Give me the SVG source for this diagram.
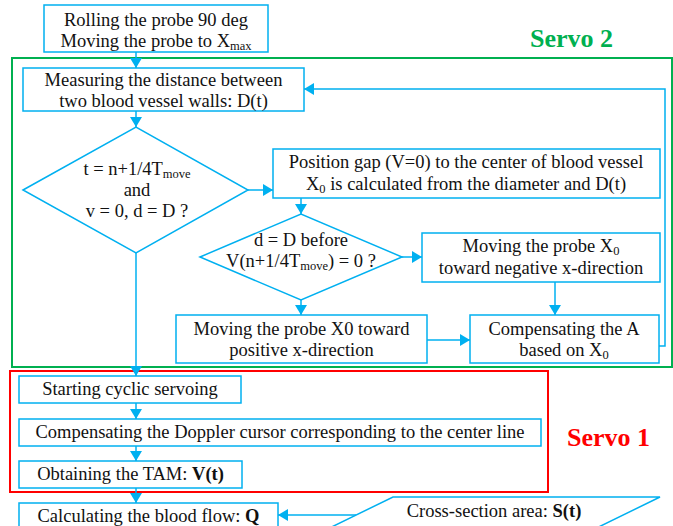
<svg xmlns="http://www.w3.org/2000/svg" width="673" height="526" viewBox="0 0 673 526">
<defs>
<marker id="ah" markerUnits="userSpaceOnUse" markerWidth="14" markerHeight="14" refX="10" refY="6" orient="auto">
<path d="M0,0 L10,6 L0,12 z" fill="#00B0F0"/>
</marker>
<style>
.box{fill:#fff;stroke:#00B0F0;stroke-width:1.5}
.t{font-family:"Liberation Serif","Times New Roman",serif;font-size:18.5px;fill:#111;text-anchor:middle}
.s{font-size:12.5px}
.c{fill:none;stroke:#00B0F0;stroke-width:1.5;marker-end:url(#ah)}
.grp{fill:none;stroke-width:2}
.lbl{font-family:"Liberation Serif","Times New Roman",serif;font-weight:bold;font-size:26px}
</style>
</defs>
<rect width="673" height="526" fill="#fff"/>
<g id="servo2">
<rect class="grp" x="12" y="58" width="660" height="309" stroke="#00B050"/>
<text class="lbl" x="530" y="47" fill="#00B050">Servo 2</text>
</g>
<g id="servo1">
<rect class="grp" x="10" y="371" width="538" height="121" stroke="#FF0000"/>
<text class="lbl" x="567" y="446" fill="#FF0000">Servo 1</text>
</g>
<g id="connectors">
<path class="c" d="M136,52 V68"/>
<path class="c" d="M136,111 V127"/>
<path class="c" d="M248,190 H273"/>
<path class="c" d="M301,198 V214"/>
<path class="c" d="M402,257 H422"/>
<path class="c" d="M555,282 V315"/>
<path class="c" d="M301,300 V315"/>
<path class="c" d="M427,340 H470"/>
<path class="c" d="M657,346 H665 V89 H304"/>
<path class="c" d="M136,253 V376"/>
<path class="c" d="M136,403 V419"/>
<path class="c" d="M136,446 V461"/>
<path class="c" d="M136,488 V503"/>
<path class="c" d="M356,515 H278"/>
</g>
<g id="n_start">
<rect class="box" x="44" y="5" width="224" height="47"/>
<text class="t" x="156" y="26">Rolling the probe 90 deg</text>
<text class="t" x="156" y="47">Moving the probe to X<tspan class="s" dy="3">max</tspan></text>
</g>
<g id="n_measure">
<rect class="box" x="23" y="68" width="281" height="43"/>
<text class="t" x="163.5" y="86">Measuring the distance between</text>
<text class="t" x="163.5" y="107">two blood vessel walls: D(t)</text>
</g>
<g id="n_dec1">
<polygon class="box" points="23,190 136,127 248,190 136,253"/>
<text class="t" x="137" y="175">t = n+1/4T<tspan class="s" dy="3">move</tspan></text>
<text class="t" x="137" y="196">and</text>
<text class="t" x="137" y="217">v = 0, d = D ?</text>
</g>
<g id="n_position">
<rect class="box" x="273" y="149" width="387" height="49"/>
<text class="t" x="466" y="168">Position gap (V=0) to the center of blood vessel</text>
<text class="t" x="466" y="190">X<tspan class="s" dy="3">0</tspan><tspan dy="-3"> is calculated from the diameter and D(t)</tspan></text>
</g>
<g id="n_dec2">
<polygon class="box" points="200,257 301,214 402,257 301,300"/>
<text class="t" x="301" y="246">d = D before</text>
<text class="t" x="301" y="267">V(n+1/4T<tspan class="s" dy="3">move</tspan><tspan dy="-3">) = 0 ?</tspan></text>
</g>
<g id="n_negative">
<rect class="box" x="422" y="233" width="238" height="49"/>
<text class="t" x="541" y="252">Moving the probe X<tspan class="s" dy="3">0</tspan></text>
<text class="t" x="541" y="274">toward negative x-direction</text>
</g>
<g id="n_positive">
<rect class="box" x="176" y="315" width="251" height="48"/>
<text class="t" x="301.5" y="335">Moving the probe X0 toward</text>
<text class="t" x="301.5" y="356">positive x-direction</text>
</g>
<g id="n_compA">
<rect class="box" x="470" y="315" width="189" height="48"/>
<text class="t" x="564" y="335">Compensating the A</text>
<text class="t" x="564" y="356">based on X<tspan class="s" dy="3">0</tspan></text>
</g>
<g id="n_cyclic">
<rect class="box" x="19" y="376" width="222" height="27"/>
<text class="t" x="130" y="395">Starting cyclic servoing</text>
</g>
<g id="n_doppler">
<rect class="box" x="19" y="419" width="522" height="27"/>
<text class="t" x="280" y="438">Compensating the Doppler cursor corresponding to the center line</text>
</g>
<g id="n_tam">
<rect class="box" x="19" y="461" width="223" height="27"/>
<text class="t" x="130.5" y="480">Obtaining the TAM: <tspan font-weight="bold">V(t)</tspan></text>
</g>
<g id="n_flow">
<rect class="box" x="19" y="503" width="259" height="30"/>
<text class="t" x="148.5" y="522">Calculating the blood flow: <tspan font-weight="bold">Q</tspan></text>
</g>
<g id="n_area">
<polygon class="box" points="393,497 660,497 572,540 305,540"/>
<text class="t" x="494" y="517">Cross-section area: <tspan font-weight="bold">S(t)</tspan></text>
</g>
</svg>
